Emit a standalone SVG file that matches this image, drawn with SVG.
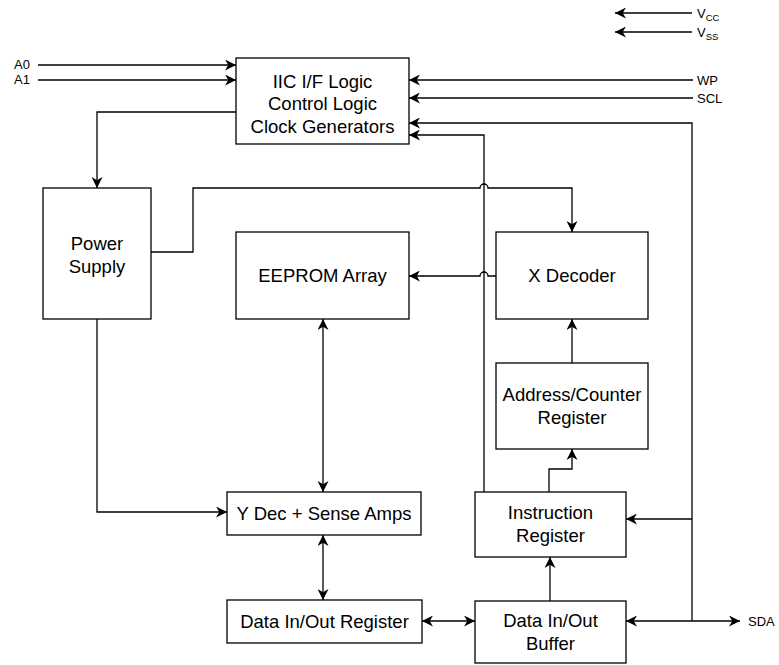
<svg xmlns="http://www.w3.org/2000/svg" width="779" height="665" viewBox="0 0 779 665">
<style>
.box{fill:#fff;stroke:#000;stroke-width:1.3}
.t{font-family:"Liberation Sans",Arial,sans-serif;font-size:18.5px;text-anchor:middle;fill:#000}
.l{font-family:"Liberation Sans",Arial,sans-serif;font-size:13px;fill:#000}
.s{font-size:9.5px}
.c{fill:none;stroke:#000;stroke-width:1.3}
</style>
<defs>
<marker id="a" viewBox="0 0 10 10" refX="10" refY="5" markerWidth="11" markerHeight="11" markerUnits="userSpaceOnUse" orient="auto-start-reverse">
<path d="M0,0 L10,5 L0,10 L3,5 z" fill="#000"/>
</marker>
</defs>
<rect width="779" height="665" fill="#fff"/>
<g id="connectors">
<path class="c" d="M692,13 L615,13" marker-end="url(#a)"/>
<path class="c" d="M692,32 L615,32" marker-end="url(#a)"/>
<path class="c" d="M38,65 L236,65" marker-end="url(#a)"/>
<path class="c" d="M38,80 L236,80" marker-end="url(#a)"/>
<path class="c" d="M693,80 L409,80" marker-end="url(#a)"/>
<path class="c" d="M693,98 L409,98" marker-end="url(#a)"/>
<path class="c" d="M692,621 L692,123 L409,123" marker-end="url(#a)"/>
<path class="c" d="M484,492 L484,135 L409,135" marker-end="url(#a)"/>
<path class="c" d="M236,112 L97,112 L97,188" marker-end="url(#a)"/>
<path class="c" d="M151,252 L193,252 L193,188 L480,188 A4,4 0 0 1 488,188 L572,188 L572,232" marker-end="url(#a)"/>
<path class="c" d="M496,276 L488,276 A4,4 0 0 0 480,276 L409,276" marker-end="url(#a)"/>
<path class="c" d="M572,363 L572,319" marker-end="url(#a)"/>
<path class="c" d="M549,492 L549,469 L572,469 L572,449" marker-end="url(#a)"/>
<path class="c" d="M692,519 L626,519" marker-end="url(#a)"/>
<path class="c" d="M550,601 L550,557" marker-end="url(#a)"/>
<path class="c" d="M97,319 L97,512 L227,512" marker-end="url(#a)"/>
<path class="c" d="M323,319 L323,492" marker-start="url(#a)" marker-end="url(#a)"/>
<path class="c" d="M323,535 L323,600" marker-start="url(#a)" marker-end="url(#a)"/>
<path class="c" d="M422,621 L475,621" marker-start="url(#a)" marker-end="url(#a)"/>
<path class="c" d="M626,621 L740,621" marker-start="url(#a)" marker-end="url(#a)"/>
</g>
<g id="labels">
<text class="l" x="697" y="18">V<tspan class="s" dy="3">CC</tspan></text>
<text class="l" x="697" y="37">V<tspan class="s" dy="3">SS</tspan></text>
<text class="l" x="14" y="69">A0</text>
<text class="l" x="14" y="84">A1</text>
<text class="l" x="697" y="85">WP</text>
<text class="l" x="697" y="103">SCL</text>
<text class="l" x="748" y="626">SDA</text>
</g>
<g id="iic">
<rect class="box" x="236" y="58" width="173" height="86"/>
<text class="t" x="322.5" y="87.5">IIC I/F Logic</text>
<text class="t" x="322.5" y="110">Control Logic</text>
<text class="t" x="322.5" y="133">Clock Generators</text>
</g>
<g id="power">
<rect class="box" x="43" y="188" width="108" height="131"/>
<text class="t" x="97" y="250">Power</text>
<text class="t" x="97" y="273">Supply</text>
</g>
<g id="eeprom">
<rect class="box" x="236" y="232" width="173" height="87"/>
<text class="t" x="322.5" y="282">EEPROM Array</text>
</g>
<g id="xdec">
<rect class="box" x="496" y="232" width="152" height="87"/>
<text class="t" x="572" y="282">X Decoder</text>
</g>
<g id="addr">
<rect class="box" x="496" y="363" width="152" height="86"/>
<text class="t" x="572" y="401">Address/Counter</text>
<text class="t" x="572" y="424">Register</text>
</g>
<g id="instr">
<rect class="box" x="475" y="492" width="151" height="65"/>
<text class="t" x="550.5" y="519">Instruction</text>
<text class="t" x="550.5" y="542">Register</text>
</g>
<g id="ydec">
<rect class="box" x="227" y="492" width="194" height="43"/>
<text class="t" x="324" y="520">Y Dec + Sense Amps</text>
</g>
<g id="dreg">
<rect class="box" x="227" y="600" width="195" height="43"/>
<text class="t" x="324.5" y="628">Data In/Out Register</text>
</g>
<g id="dbuf">
<rect class="box" x="475" y="601" width="151" height="62"/>
<text class="t" x="550.5" y="627">Data In/Out</text>
<text class="t" x="550.5" y="650">Buffer</text>
</g>
</svg>
